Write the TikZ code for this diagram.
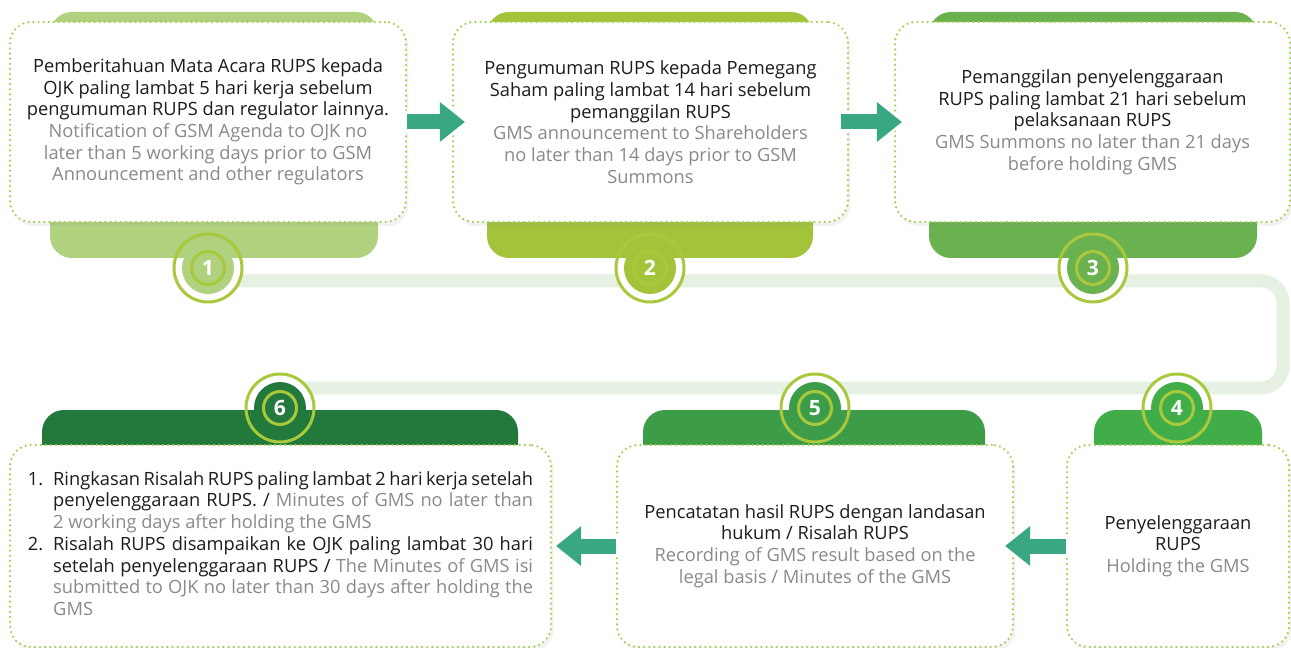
\documentclass[tikz,border=0pt]{standalone}
\usepackage{fontspec}
\setmainfont{Open Sans}
\usetikzlibrary{arrows.meta,shadows}

\definecolor{ink}{HTML}{1C1C1C}
\definecolor{note}{HTML}{8A8A8A}
\definecolor{dotline}{HTML}{A3CF52}
\definecolor{ringline}{HTML}{A9C83C}
\definecolor{trackline}{HTML}{E6F1E4}
\definecolor{flowteal}{HTML}{39A781}
\definecolor{stepa}{HTML}{B0D27F}
\definecolor{stepb}{HTML}{A3C43A}
\definecolor{stepc}{HTML}{6AB150}
\definecolor{stepd}{HTML}{41AD49}
\definecolor{stepe}{HTML}{3D9C47}
\definecolor{stepf}{HTML}{22793B}

\newcommand{\jline}[1]{\makebox[9.6cm][s]{#1}}
\newcommand{\en}[1]{\textcolor{note}{#1}}

\tikzset{
  card/.style={draw=dotline, line width=1.4pt, dash pattern=on 0pt off 2.9pt, line cap=round,
    rounded corners=0.42cm, fill=white, align=center, text=ink, inner sep=0pt,
    font=\fontsize{10.4}{12.35}\selectfont,
    drop shadow={opacity=0.10, shadow xshift=0.05cm, shadow yshift=-0.08cm}},
  tab/.style={rounded corners=0.44cm},
  track/.style={draw=trackline, line width=0.26cm, rounded corners=0.44cm},
  badge/.style={circle, minimum size=1.04cm, inner sep=0pt, text=white,
    font=\fontsize{12}{14}\selectfont\bfseries},
  ring/.style={draw=ringline, line width=1.7pt},
  flow/.style={draw=flowteal, line width=0.3cm,
    -{Triangle[length=0.5cm, width=0.8cm, line width=0pt]},
    preaction={draw=white, line width=0.42cm, shorten <=-0.06cm, shorten >=-0.08cm,
      -{Triangle[length=0.64cm, width=1.04cm, line width=0pt]}}},
}

\begin{document}
\begin{tikzpicture}[x=0.02cm, y=-0.02cm]
\useasboundingbox (0,0) rectangle (1291,648);
\fill[white] (0,0) rectangle (1291,648);
%\draw[red] (0,0) rectangle (1291,648);

% path behind the numbers
\draw[track] (208,281) -- (1283,281) -- (1283,388) -- (280,388);
\foreach \x/\y in {208/268, 650/268, 1093/268, 1177/408, 815/408, 280/408}
  \fill[white] (\x,\y) circle (33);

% colour tabs
\fill[tab, stepa] (50,12) rectangle (378,258);
\fill[tab, stepb] (487,12) rectangle (813,258);
\fill[tab, stepc] (929,12) rectangle (1257,258);
\fill[tab, stepd] (1094,410) rectangle (1262,620);
\fill[tab, stepe] (643,410) rectangle (985,620);
\fill[tab, stepf] (42,410) rectangle (518,620);

\node[card, minimum width=7.92cm, minimum height=4cm] (c1) at (208,122)
  {Pemberitahuan Mata Acara RUPS kepada\\OJK paling lambat 5 hari kerja sebelum\\pengumuman RUPS dan regulator lainnya.\\
   \en{Notification of GSM Agenda to OJK no}\\\en{later than 5 working days prior to GSM}\\\en{Announcement and other regulators}};
\node[card, minimum width=7.9cm, minimum height=4cm] (c2) at (650.5,122)
  {Pengumuman RUPS kepada Pemegang\\Saham paling lambat 14 hari sebelum\\pemanggilan RUPS\\
   \en{GMS announcement to Shareholders}\\\en{no later than 14 days prior to GSM}\\\en{Summons}};
\node[card, minimum width=7.9cm, minimum height=4cm] (c3) at (1092.5,122)
  {Pemanggilan penyelenggaraan\\RUPS paling lambat 21 hari sebelum\\pelaksanaan RUPS\\
   \en{GMS Summons no later than 21 days}\\\en{before holding GMS}};
\node[card, minimum width=4.44cm, minimum height=4.04cm] (c4) at (1178,546)
  {Penyelenggaraan\\RUPS\\\en{Holding the GMS}};
\node[card, minimum width=7.92cm, minimum height=4.04cm] (c5) at (815,546)
  {Pencatatan hasil RUPS dengan landasan\\hukum / Risalah RUPS\\
   \en{Recording of GMS result based on the}\\\en{legal basis / Minutes of the GMS}};
\node[card, minimum width=10.82cm, minimum height=4.04cm] (c6) at (280.5,546)
  {\begin{tabular}{@{}r@{\hspace{0.2cm}}l@{}}
   1. & \jline{Ringkasan Risalah RUPS paling lambat 2 hari kerja setelah}\\
      & \jline{penyelenggaraan RUPS. / \en{Minutes of GMS no later than}}\\
      & \en{2 working days after holding the GMS}\\
   2. & \jline{Risalah RUPS disampaikan ke OJK paling lambat 30 hari}\\
      & \jline{setelah penyelenggaraan RUPS / \en{The Minutes of GMS isi}}\\
      & \jline{\en{submitted to OJK no later than 30 days after holding the}}\\
      & \en{GMS}
   \end{tabular}};

% numbers
\foreach \n/\x/\y/\col in {1/208/268/stepa, 2/650/268/stepb, 3/1093/268/stepc,
                            4/1177/408/stepd, 5/815/408/stepe, 6/280/408/stepf} {
  \node[badge, fill=\col] (b\n) at (\x,\y) {\n};
  \draw[ring] (b\n.center) circle (34);
  \draw[ring] (b\n.center) circle (16.5);
}

% arrows between the steps
\draw[flow] (c1.east) -- ([xshift=0.26cm]c2.west);
\draw[flow] ([xshift=-0.16cm]c2.east) -- ([xshift=0.16cm]c3.west);
\draw[flow] (c4.west) -- ([xshift=-0.18cm]c5.east);
\draw[flow] (c5.west) -- ([xshift=0.08cm]c6.east);
\end{tikzpicture}
\end{document}
